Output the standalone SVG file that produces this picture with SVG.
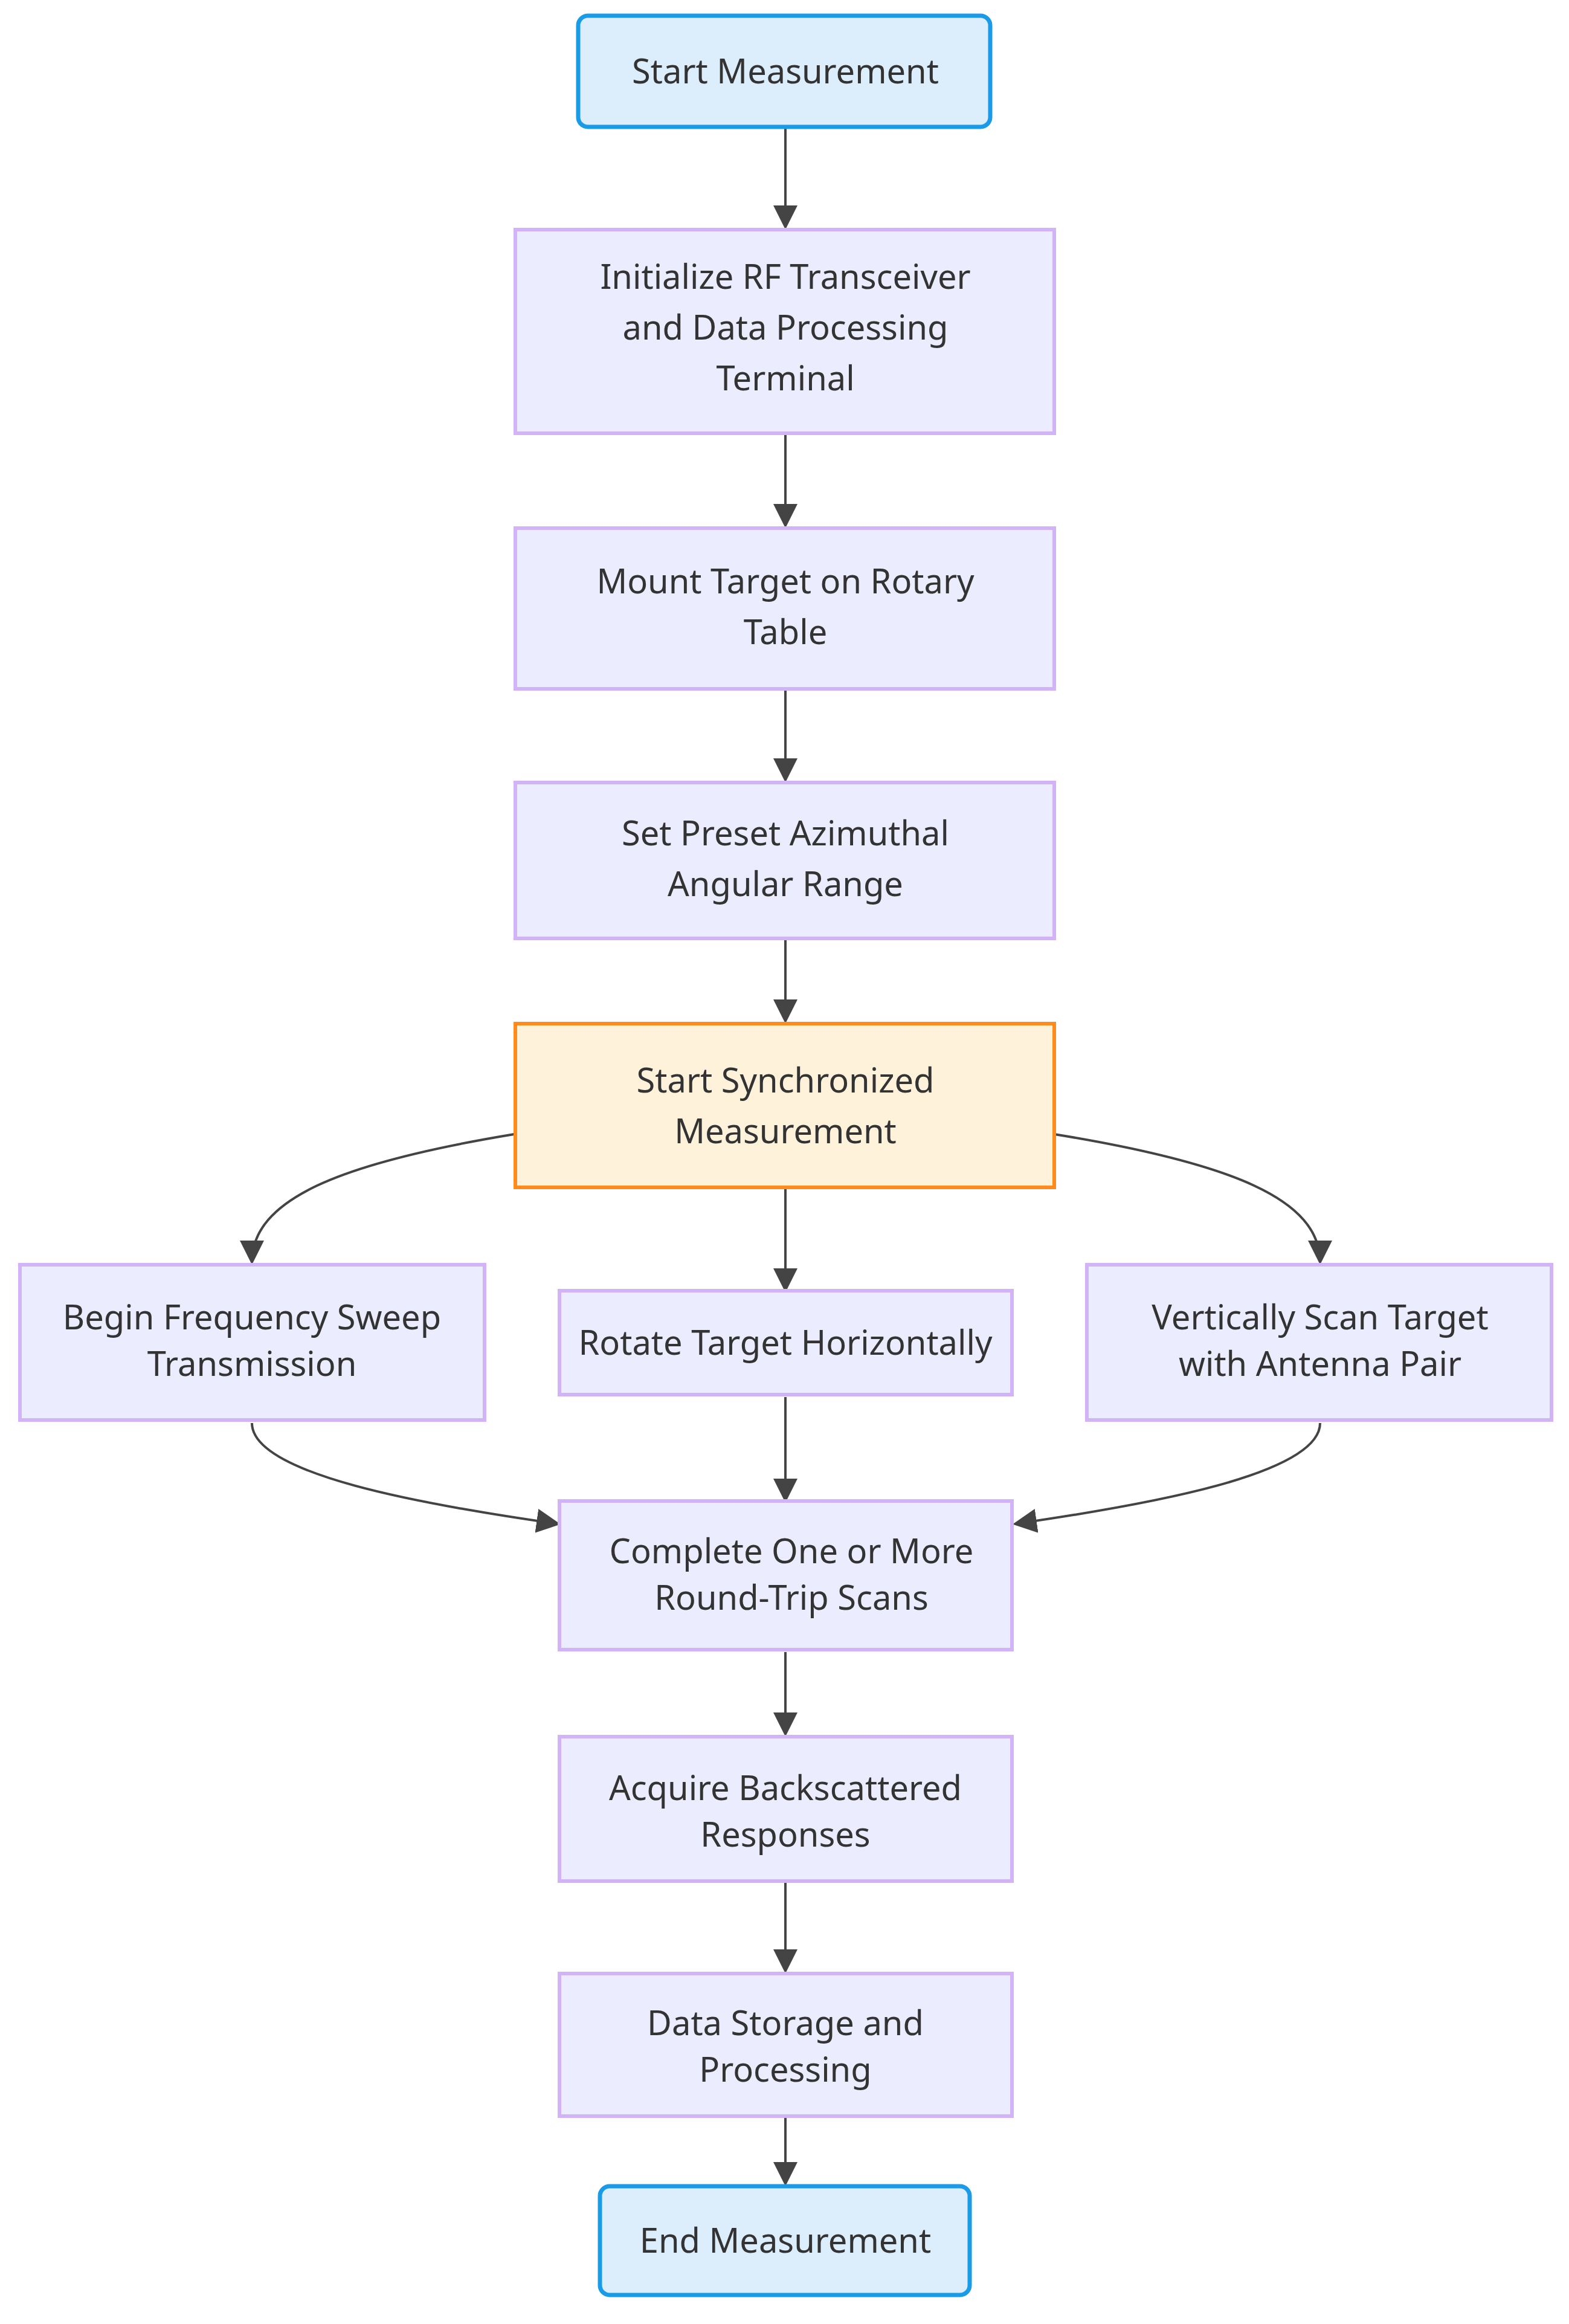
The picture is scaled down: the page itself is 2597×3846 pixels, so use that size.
<svg xmlns="http://www.w3.org/2000/svg" width="2597" height="3846" viewBox="0 0 2597 3846">
<style>
.n{fill:#ececff;stroke:#d3b3f7;stroke-width:6}
.t{fill:#dcedfc;stroke:#1a9be8;stroke-width:7}
.o{fill:#fff2db;stroke:#ff8b1c;stroke-width:6}
text{font-family:"Noto Sans","Open Sans",sans-serif;font-size:56px;fill:#333;text-anchor:middle}
.e{fill:none;stroke:#444;stroke-width:4}
</style>
<defs><marker id="a" markerWidth="10" markerHeight="10" refX="9" refY="5" orient="auto" markerUnits="strokeWidth"><path d="M0,0 L10,5 L0,10 z" fill="#444"/></marker></defs>
<rect width="2597" height="3846" fill="#fff"/>
<g id="edges">
<path class="e" marker-end="url(#a)" d="M1300,213 V376"/>
<path class="e" marker-end="url(#a)" d="M1300,720 V870"/>
<path class="e" marker-end="url(#a)" d="M1300,1143 V1291"/>
<path class="e" marker-end="url(#a)" d="M1300,1556 V1690"/>
<path class="e" marker-end="url(#a)" d="M851,1877 C560,1925 417,1985 417,2089"/>
<path class="e" marker-end="url(#a)" d="M1745,1877 C2040,1925 2185,1985 2185,2089"/>
<path class="e" marker-end="url(#a)" d="M1300,1968 V2135"/>
<path class="e" marker-end="url(#a)" d="M417,2355 C417,2440 700,2490 924,2522"/>
<path class="e" marker-end="url(#a)" d="M2185,2355 C2185,2440 1900,2490 1680,2522"/>
<path class="e" marker-end="url(#a)" d="M1300,2312 V2483"/>
<path class="e" marker-end="url(#a)" d="M1300,2734 V2870"/>
<path class="e" marker-end="url(#a)" d="M1300,3116 V3262"/>
<path class="e" marker-end="url(#a)" d="M1300,3505 V3614"/>
</g>
<g id="start"><rect class="t" x="957" y="26" width="682" height="184" rx="16"/><text x="1300" y="138">Start Measurement</text></g>
<g id="init"><rect class="n" x="853" y="380" width="892" height="337"/><text x="1300" y="478">Initialize RF Transceiver</text><text x="1300" y="562">and Data Processing</text><text x="1300" y="646">Terminal</text></g>
<g id="mount"><rect class="n" x="853" y="874" width="892" height="266"/><text x="1300" y="982">Mount Target on Rotary</text><text x="1300" y="1066">Table</text></g>
<g id="preset"><rect class="n" x="853" y="1295" width="892" height="258"/><text x="1300" y="1399">Set Preset Azimuthal</text><text x="1300" y="1483">Angular Range</text></g>
<g id="sync"><rect class="o" x="853" y="1694" width="892" height="271"/><text x="1300" y="1808">Start Synchronized</text><text x="1300" y="1892">Measurement</text></g>
<g id="sweep"><rect class="n" x="33" y="2093" width="769" height="257"/><text x="417" y="2200">Begin Frequency Sweep</text><text x="417" y="2277">Transmission</text></g>
<g id="rotate"><rect class="n" x="926" y="2136" width="749" height="172"/><text x="1300" y="2242">Rotate Target Horizontally</text></g>
<g id="vscan"><rect class="n" x="1799" y="2093" width="769" height="257"/><text x="2185" y="2200">Vertically Scan Target</text><text x="2185" y="2277">with Antenna Pair</text></g>
<g id="complete"><rect class="n" x="926" y="2484" width="749" height="246"/><text x="1310" y="2587">Complete One or More</text><text x="1310" y="2664">Round-Trip Scans</text></g>
<g id="acquire"><rect class="n" x="926" y="2874" width="749" height="239"/><text x="1300" y="2979">Acquire Backscattered</text><text x="1300" y="3056">Responses</text></g>
<g id="store"><rect class="n" x="926" y="3266" width="749" height="236"/><text x="1300" y="3368">Data Storage and</text><text x="1300" y="3445">Processing</text></g>
<g id="end"><rect class="t" x="993" y="3618" width="612" height="180" rx="16"/><text x="1300" y="3728">End Measurement</text></g>
</svg>
